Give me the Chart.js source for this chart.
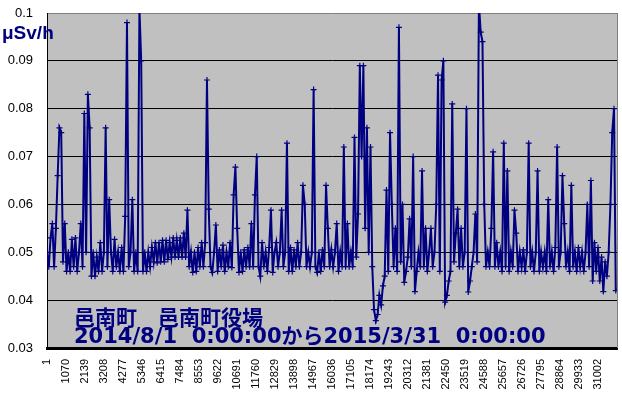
<!DOCTYPE html>
<html><head><meta charset="utf-8">
<script src="https://cdn.jsdelivr.net/npm/chart.js@4"></script>
<style>html,body{margin:0;padding:0;background:#fff}canvas{display:block}</style>
</head><body>
<canvas id="c" width="622" height="398"></canvas>
<script>
// ---- chart text ----
const unitLabel = 'μSv/h';
const stationLine = '邑南町　邑南町役場';
const periodLine = '2014/8/1  0:00:00から2015/3/31  0:00:00';

// ---- tick labels ----
const xTickLabels = [1,1070,2139,3208,4277,5346,6415,7484,8553,9622,10691,11760,12829,13898,14967,16036,17105,18174,19243,20312,21381,22450,23519,24588,25657,26726,27795,28864,29933,31002];
const yTickLabels = [0.03,0.04,0.05,0.06,0.07,0.08,0.09,0.1];

// ---- series: dose rate, one reading every sampleStep records ----
const sampleStep = 100;
const doseRate = [
0.050,0.047,0.053,0.056,0.047,0.055,0.066,0.076,0.075,0.048,
0.056,0.046,0.050,0.046,0.0527,0.047,0.053,0.046,0.050,0.056,
0.047,0.079,0.050,0.083,0.076,0.045,0.050,0.045,0.049,0.046,
0.052,0.046,0.050,0.076,0.047,0.061,0.050,0.046,0.0527,0.047,
0.050,0.046,0.051,0.046,0.0575,0.098,0.047,0.050,0.061,0.046,
0.050,0.046,0.101,0.090,0.046,0.050,0.046,0.050,0.047,0.051,
0.048,0.052,0.0478,0.052,0.048,0.0525,0.048,0.0525,0.0485,0.052,
0.049,0.053,0.049,0.0525,0.049,0.053,0.049,0.054,0.049,0.0588,
0.047,0.050,0.0458,0.050,0.046,0.051,0.047,0.052,0.047,0.052,
0.086,0.059,0.047,0.0458,0.050,0.0557,0.046,0.0505,0.047,0.0515,
0.046,0.050,0.047,0.052,0.0468,0.062,0.0678,0.055,0.0458,0.050,
0.046,0.0505,0.047,0.051,0.047,0.056,0.047,0.062,0.070,0.047,
0.045,0.052,0.047,0.050,0.046,0.051,0.0588,0.0458,0.050,0.052,
0.047,0.050,0.0588,0.047,0.050,0.0728,0.046,0.051,0.046,0.0505,
0.047,0.052,0.047,0.050,0.064,0.060,0.047,0.050,0.047,0.050,
0.084,0.047,0.0458,0.050,0.046,0.0505,0.047,0.064,0.055,0.047,
0.0505,0.047,0.050,0.056,0.046,0.050,0.047,0.072,0.047,0.056,
0.047,0.050,0.047,0.074,0.049,0.058,0.089,0.070,0.089,0.055,
0.076,0.050,0.072,0.047,0.038,0.0357,0.037,0.041,0.039,0.043,
0.045,0.063,0.046,0.075,0.060,0.047,0.055,0.046,0.097,0.048,
0.060,0.0437,0.046,0.049,0.057,0.047,0.070,0.0418,0.046,0.050,
0.047,0.067,0.047,0.055,0.046,0.050,0.055,0.047,0.050,0.060,
0.087,0.046,0.086,0.090,0.0396,0.041,0.044,0.046,0.081,0.048,
0.054,0.059,0.047,0.055,0.047,0.050,0.080,0.0417,0.044,0.047,
0.050,0.058,0.048,0.102,0.096,0.094,0.060,0.047,0.050,0.047,
0.055,0.071,0.047,0.052,0.047,0.050,0.046,0.0728,0.047,0.067,
0.046,0.050,0.047,0.0588,0.054,0.046,0.050,0.047,0.0505,0.046,
0.050,0.0728,0.047,0.050,0.046,0.050,0.067,0.046,0.050,0.047,
0.050,0.046,0.061,0.047,0.050,0.046,0.051,0.072,0.047,0.050,
0.066,0.056,0.047,0.050,0.046,0.064,0.047,0.050,0.046,0.051,
0.047,0.050,0.046,0.050,0.060,0.047,0.065,0.044,0.052,0.046,
0.051,0.044,0.049,0.0418,0.048,0.045,0.050,0.060,0.075,0.080,0.042
];
const lastRecord = 32070;

const NAVY = '#000080';
const points = doseRate.map((v, i) => ({ x: 1 + i * sampleStep, y: v }));

const decor = {
  id: 'decor',
  beforeDraw(chart) {
    const { ctx, chartArea: a } = chart;
    ctx.save();
    ctx.fillStyle = '#fff';
    ctx.fillRect(0, 0, chart.width, chart.height);
    ctx.fillStyle = '#c0c0c0';
    ctx.fillRect(a.left, a.top, a.right - a.left, a.bottom - a.top);
    ctx.restore();
  },
  afterDraw(chart) {
    const { ctx, chartArea: a } = chart;
    ctx.save();
    ctx.strokeStyle = '#808080';
    ctx.lineWidth = 1;
    ctx.beginPath();
    ctx.moveTo(Math.round(a.right) + 0.5, a.top);
    ctx.lineTo(Math.round(a.right) + 0.5, a.bottom);
    ctx.stroke();
    ctx.fillStyle = NAVY;
    ctx.textBaseline = 'alphabetic';
    ctx.textAlign = 'left';
    ctx.font = 'bold 19px "Liberation Sans", Arial, sans-serif';
    ctx.fillText(unitLabel, 2, 39);
    ctx.font = 'bold 21px "DejaVu Sans", "Noto Sans CJK JP", sans-serif';
    ctx.fillText(stationLine, 74, 325);
    ctx.fillText(periodLine, 74, 343);
    ctx.restore();
  }
};

new Chart(document.getElementById('c'), {
  type: 'line',
  data: {
    datasets: [{
      data: points,
      borderColor: NAVY,
      borderWidth: 2,
      pointStyle: 'cross',
      pointRadius: 3,
      pointBorderColor: NAVY,
      pointBorderWidth: 1.2,
      pointHoverRadius: 0,
      tension: 0,
      fill: false
    }]
  },
  options: {
    responsive: false,
    animation: false,
    devicePixelRatio: 1,
    layout: { padding: { left: 0, right: 5, top: 13, bottom: 0 } },
    plugins: { legend: { display: false }, tooltip: { enabled: false } },
    scales: {
      x: {
        type: 'linear', min: 1, max: lastRecord,
        afterBuildTicks: s => { s.ticks = xTickLabels.map(v => ({ value: v })); },
        afterFit: s => { s.height = 50; s.paddingLeft = 0; s.paddingRight = 0; },
        ticks: {
          autoSkip: false, maxRotation: 90, minRotation: 90, padding: 11,
          color: '#000', font: { family: '"Liberation Sans", Arial, sans-serif', size: 11 },
          callback: v => String(v)
        },
        grid: { display: false, drawTicks: false },
        border: { color: '#000', width: 3 }
      },
      y: {
        min: 0.03, max: 0.1,
        afterBuildTicks: s => { s.ticks = yTickLabels.map(v => ({ value: v })); },
        afterFit: s => { s.width = 47; s.paddingTop = 0; s.paddingBottom = 0; },
        ticks: {
          padding: 14, color: '#000',
          font: { family: '"Liberation Sans", Arial, sans-serif', size: 13 },
          callback: v => String(+Number(v).toFixed(2))
        },
        grid: {
          drawTicks: false,
          color: c => {
            const v = +c.tick.value.toFixed(2);
            if (v === 0.1) return '#808080';
            if (v === 0.03) return 'rgba(0,0,0,0)';
            return '#000';
          },
          lineWidth: 1
        },
        border: { color: '#000', width: 1 }
      }
    }
  },
  plugins: [decor]
});
</script>
</body></html>
